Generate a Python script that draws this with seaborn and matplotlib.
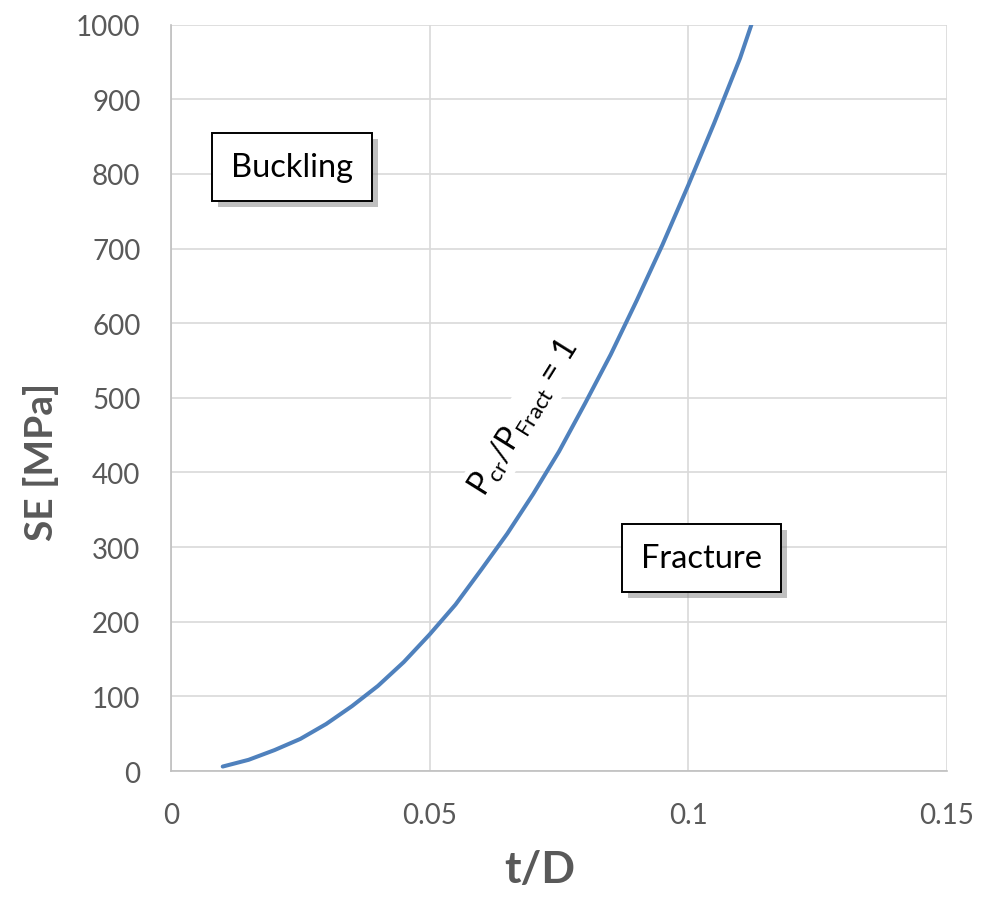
import numpy as np
import pandas as pd
import matplotlib
matplotlib.use("Agg")
import matplotlib.pyplot as plt
import matplotlib.patheffects as pe
import seaborn as sns

# curve values
t_over_d = [0.010, 0.015, 0.020, 0.025, 0.030, 0.035, 0.040, 0.045, 0.050, 0.055,
            0.060, 0.065, 0.070, 0.075, 0.080, 0.085, 0.090, 0.095, 0.100, 0.105,
            0.110, 0.1122]
se_mpa = [6, 15, 28, 43, 63, 87, 114, 146, 183, 223,
          270, 318, 371, 428, 492, 558, 630, 705, 785, 868,
          955, 1000]

x_ticks = [0, 0.05, 0.1, 0.15]
x_tick_labels = ["0", "0.05", "0.1", "0.15"]
y_ticks = list(range(0, 1001, 100))

df = pd.DataFrame({"t/D": t_over_d, "SE": se_mpa})

sns.set_theme(style="whitegrid")
plt.rcParams["font.family"] = ["Lato", "DejaVu Sans"]
plt.rcParams["mathtext.fontset"] = "custom"
plt.rcParams["mathtext.rm"] = "Lato"

grid_col = "#D9D9D9"
txt_col = "#595959"

fig = plt.figure(figsize=(9.81, 9.04), dpi=100)
ax = fig.add_axes([0.1743, 0.146, 0.7910, 0.8256])

sns.lineplot(data=df, x="t/D", y="SE", ax=ax, color="#4F81BD", linewidth=2.9,
             sort=False, zorder=3)

ax.set_xlim(0, 0.15)
ax.set_ylim(0, 1000)
ax.set_xticks(x_ticks)
ax.set_xticklabels(x_tick_labels)
ax.set_yticks(y_ticks)
ax.tick_params(axis="both", length=0, labelsize=20, labelcolor=txt_col, pad=22)
ax.grid(True, color=grid_col, linewidth=1.2)
for s in ax.spines.values():
    s.set_visible(False)
for side in ["left", "bottom"]:
    ax.spines[side].set_visible(True)
    ax.spines[side].set_color("#BFBFBF")
    ax.spines[side].set_linewidth(1.2)

ax.set_xlabel("t/D", fontsize=32, fontweight="bold", color=txt_col, labelpad=18)
ax.set_ylabel("SE [MPa]", fontsize=28, fontweight="bold", color=txt_col, labelpad=12)
ax.xaxis.set_label_coords(0.4755, -0.105)
ax.yaxis.label.set_y(0.416)

# region boxes with drop shadow
for label, xx, yy in [("Buckling", 0.0234, 809), ("Fracture", 0.1026, 285)]:
    t = ax.text(xx, yy, label, fontsize=23.5, ha="center", va="center", color="black",
                zorder=5,
                bbox=dict(boxstyle="square,pad=0.58", facecolor="white",
                          edgecolor="black", linewidth=1.4))
    t.get_bbox_patch().set_path_effects([
        pe.SimplePatchShadow(offset=(4, -4), shadow_rgbFace="#8C8C8C", alpha=0.55),
        pe.Normal()])

ax.text(0.0683, 474, r"$\mathregular{P_{cr}/P_{Fract}}$ = 1", fontsize=23,
        rotation=58, ha="center", va="center", color="black", zorder=4,
        rotation_mode="anchor",
        bbox=dict(boxstyle="square,pad=0.15", facecolor="white", edgecolor="none"))

fig.savefig("out.png", dpi=100)
